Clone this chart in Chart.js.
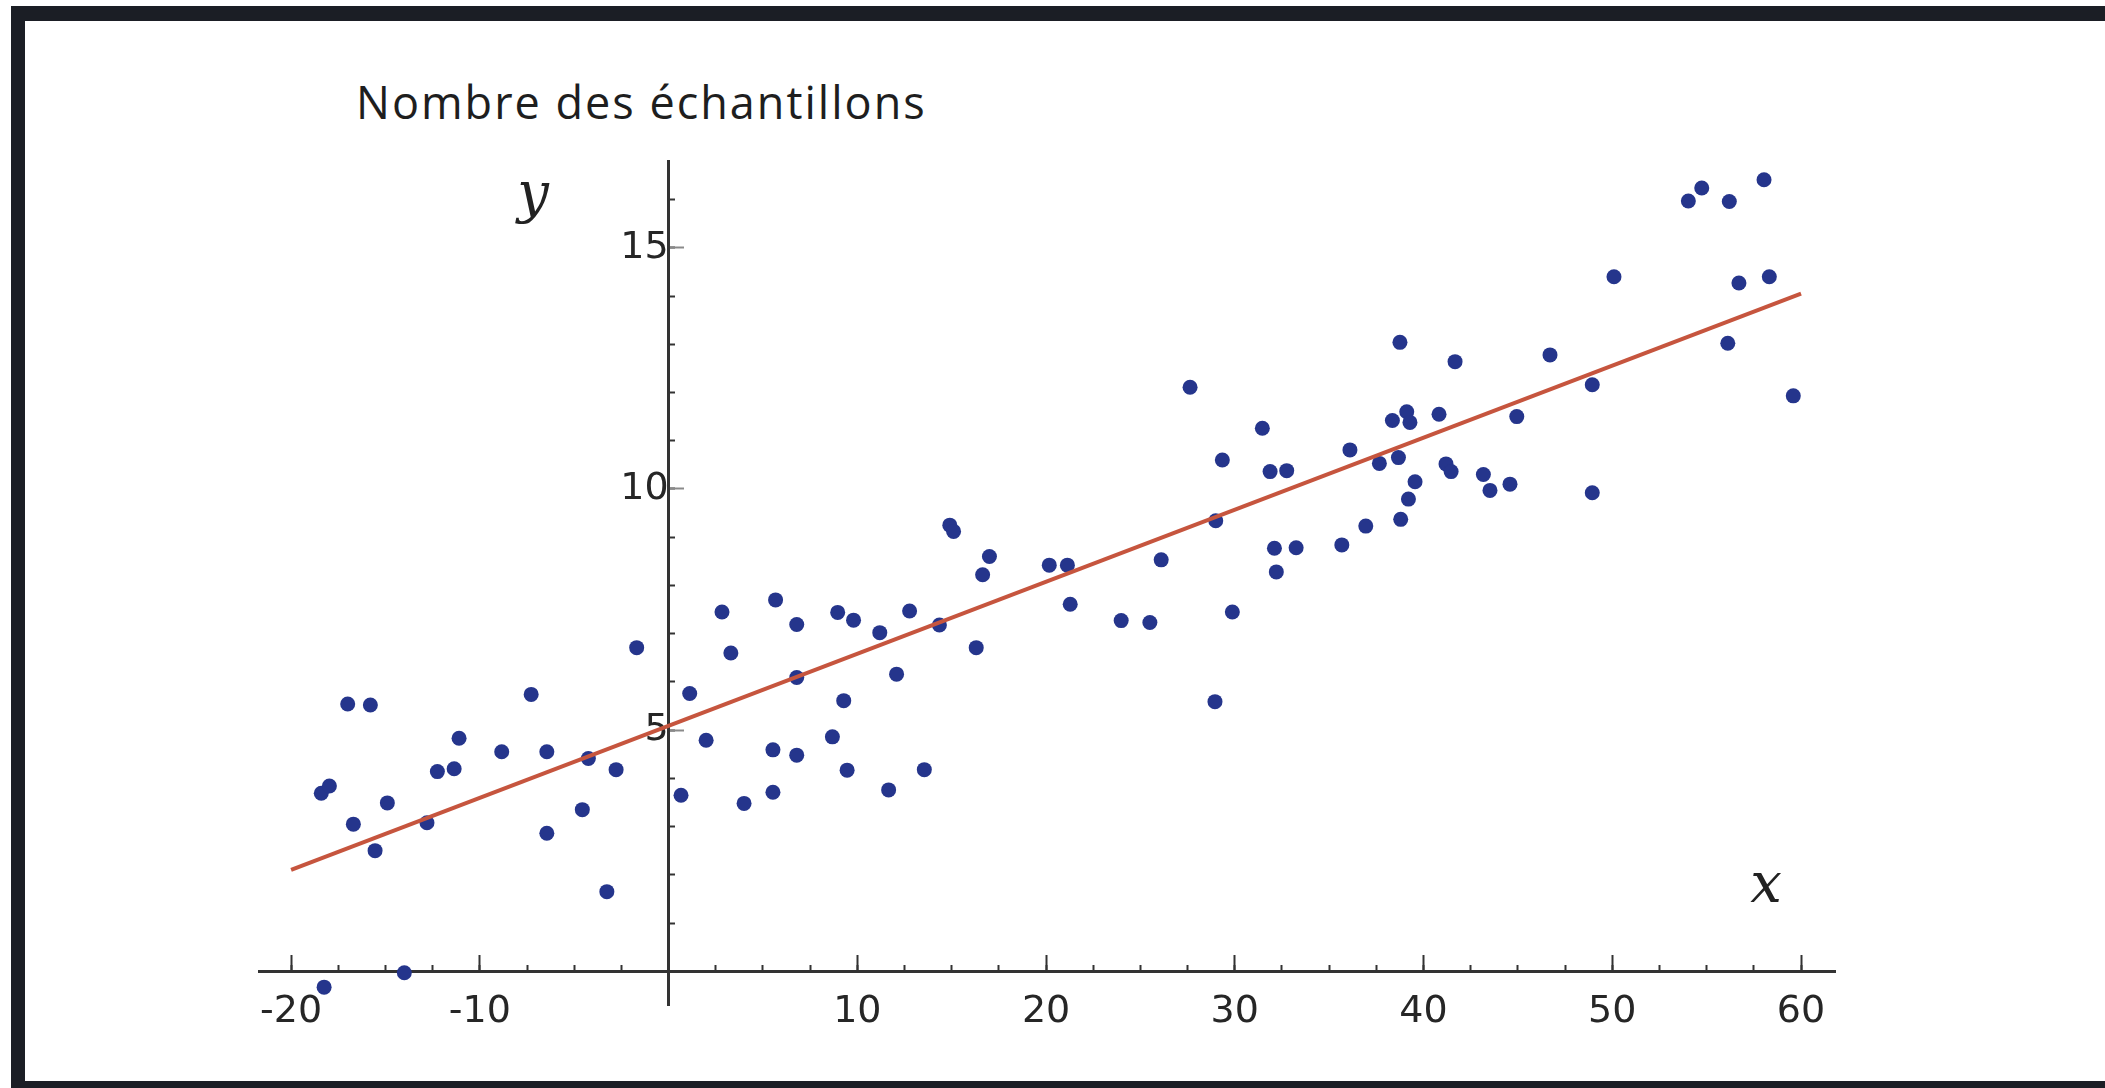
<!DOCTYPE html>
<html lang="fr">
<head>
<meta charset="utf-8">
<title>Nombre des échantillons</title>
<script src="https://cdn.jsdelivr.net/npm/chart.js@4.4.1/dist/chart.umd.min.js"></script>
<style>
  html, body { margin: 0; padding: 0; background: #fff; overflow: hidden; }
  #cadre {
    position: absolute; left: 11px; top: 6px; width: 2200px; height: 1082px;
    box-sizing: border-box;
    border-left: 14px solid #1b1e25; border-top: 15px solid #1b1e25; border-bottom: 7px solid #1b1e25;
  }
  #titre {
    position: absolute; left: 356px; top: 71px; line-height: normal;
    font-family: "Open Sans"; font-size: 45px; letter-spacing: 2px; color: #1e1e1e;
  }
  #graphique { position: absolute; left: 0; top: 0; }
</style>
</head>
<body>
<div id="cadre"></div>
<div id="titre">Nombre des échantillons</div>
<canvas id="graphique" width="2105" height="1088"></canvas>
<script>
// échantillons (x, y)
const echX = [
  -17.0, -15.8, -18.4, -17.97, -16.7, -15.55, -14.9, -14.0, -18.25, -12.8,
  -12.25, -11.36, -11.1, -8.84, -7.28, -6.45, -6.45, -4.57, -4.25, -3.27,
  -2.78, -1.69,
  0.66, 1.12, 1.99, 2.83, 3.3, 4.0, 5.53, 5.53, 5.67, 6.79,
  6.79, 6.79, 8.68, 8.96, 9.28, 9.46, 9.8, 11.19, 11.66, 12.08,
  12.77, 13.55, 14.35, 14.9, 15.1, 16.3, 16.64, 17.0, 20.17, 21.13,
  21.28, 23.98, 25.5, 26.1,
  27.63, 29.34, 28.99, 29.87, 28.95, 31.46, 31.87, 32.75, 32.1, 33.25,
  32.2, 35.67, 36.1, 36.94, 37.66, 38.35, 38.75, 38.67, 39.11, 39.28,
  38.79, 39.2, 39.55, 40.82, 41.19, 41.46, 41.67, 43.17, 43.52, 44.58,
  44.94, 46.7, 48.94, 48.94,
  54.03, 54.74, 56.2, 58.04, 50.09, 56.71, 58.32, 56.12, 59.59
];
const echY = [
  5.54, 5.52, 3.69, 3.84, 3.05, 2.50, 3.49, -0.03, -0.33, 3.08,
  4.14, 4.2, 4.83, 4.55, 5.74, 4.55, 2.86, 3.35, 4.41, 1.65,
  4.18, 6.71,
  3.65, 5.76, 4.79, 7.45, 6.6, 3.48, 3.71, 4.59, 7.7, 7.19,
  6.09, 4.48, 4.86, 7.44, 5.61, 4.17, 7.28, 7.02, 3.76, 6.16,
  7.47, 4.18, 7.18, 9.25, 9.12, 6.71, 8.22, 8.6, 8.42, 8.42,
  7.61, 7.27, 7.23, 8.53,
  12.11, 10.6, 9.34, 7.45, 5.59, 11.26, 10.36, 10.38, 8.77, 8.78,
  8.28, 8.84, 10.81, 9.23, 10.53, 11.42, 13.04, 10.65, 11.6, 11.38,
  9.37, 9.79, 10.15, 11.55, 10.52, 10.36, 12.64, 10.3, 9.97, 10.1,
  11.5, 12.78, 12.16, 9.92,
  15.97, 16.24, 15.96, 16.41, 14.4, 14.27, 14.4, 13.02, 11.93
];

// droite de régression
const droiteX = [-20, 60];
const droiteY = [2.1, 14.05];

// graduations
const etiquettesX = [-20, -10, 10, 20, 30, 40, 50, 60];
const etiquettesY = [5, 10, 15];

const bornesX = { min: -21.7, max: 61.8 };
const bornesY = { min: -0.7, max: 16.8 };

const couleurAxe = '#333333';
const policeTicks = { family: 'DejaVu Sans', size: 38 };

const etiquettesAxes = {
  id: 'etiquettesAxes',
  afterDraw(chart) {
    const { ctx, scales: { x, y } } = chart;
    ctx.save();
    ctx.font = 'italic 56px "DejaVu Serif"';
    ctx.fillStyle = '#222';
    ctx.textAlign = 'center';
    ctx.fillText('y', x.getPixelForValue(-7.18), y.getPixelForValue(15.75));
    ctx.fillText('x', x.getPixelForValue(58.15), y.getPixelForValue(1.43));
    ctx.restore();
  }
};

new Chart(document.getElementById('graphique'), {
  data: {
    datasets: [{
      type: 'line',
      data: droiteX.map((v, i) => ({ x: v, y: droiteY[i] })),
      borderColor: '#c6553e',
      borderWidth: 4,
      pointRadius: 0,
      order: 0
    }, {
      type: 'scatter',
      data: echX.map((v, i) => ({ x: v, y: echY[i] })),
      backgroundColor: '#25358c',
      borderWidth: 0,
      pointRadius: 7.5,
      order: 1
    }]
  },
  options: {
    responsive: false,
    animation: false,
    layout: { padding: { left: 259, right: 270, top: 161, bottom: 83 } },
    plugins: { legend: { display: false }, tooltip: { enabled: false } },
    scales: {
      x: {
        type: 'linear', ...bornesX, position: { y: 0 },
        afterFit: s => { s.height = 0; },
        border: { display: true, color: couleurAxe, width: 3 },
        grid: { drawOnChartArea: false, tickLength: -8, tickColor: couleurAxe, tickWidth: 2 },
        ticks: { display: false, stepSize: 2.5, includeBounds: false }
      },
      xMaj: {
        type: 'linear', axis: 'x', ...bornesX, position: { y: 0 },
        afterFit: s => { s.height = 0; },
        border: { display: false },
        grid: { drawOnChartArea: false, tickLength: -16, tickColor: couleurAxe, tickWidth: 2 },
        ticks: {
          stepSize: 10, includeBounds: false, autoSkip: false, maxRotation: 0,
          padding: 34, font: policeTicks, color: '#262626',
          callback: v => etiquettesX.includes(v) ? String(v) : ''
        }
      },
      y: {
        type: 'linear', ...bornesY, position: { x: 0 },
        afterFit: s => { s.width = 0; },
        border: { display: true, color: couleurAxe, width: 3 },
        grid: { drawOnChartArea: false, tickLength: -8, tickColor: couleurAxe, tickWidth: 2 },
        ticks: { display: false, stepSize: 1, includeBounds: false }
      },
      yMaj: {
        type: 'linear', axis: 'y', ...bornesY, position: { x: 0 },
        afterFit: s => { s.width = 0; },
        border: { display: false },
        grid: { drawOnChartArea: false, tickLength: -15, tickColor: '#8a8a8a', tickWidth: 2 },
        ticks: {
          stepSize: 5, includeBounds: false, autoSkip: false,
          padding: 27, font: policeTicks, color: '#262626',
          callback: v => etiquettesY.includes(v) ? String(v) : ''
        }
      }
    }
  },
  plugins: [etiquettesAxes]
});
</script>
</body>
</html>
